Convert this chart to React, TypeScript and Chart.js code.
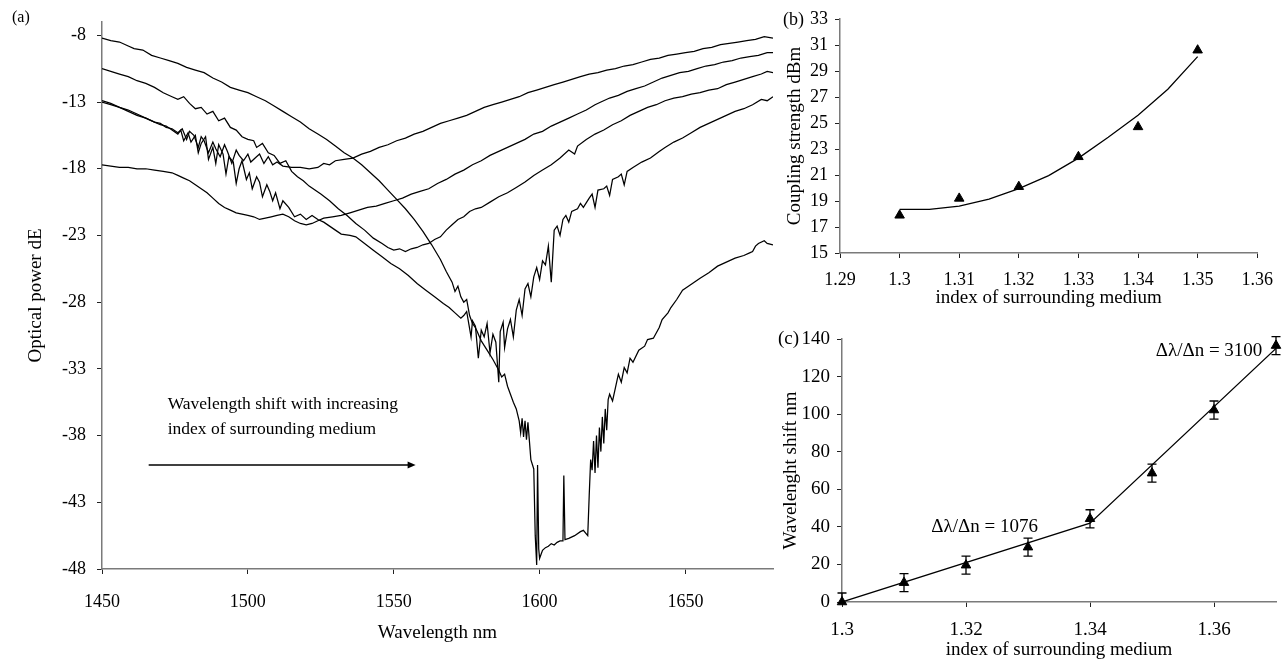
import React, { useEffect, useRef } from "react";
import { Chart, registerables } from "chart.js";

Chart.register(...registerables);

const SERIF = "'Liberation Serif', 'Times New Roman', Times, serif";

// ---------------- Panel (a): transmission spectra ----------------
const A_X_TICKS = [1450, 1500, 1550, 1600, 1650];
const A_Y_TICKS = [-48, -43, -38, -33, -28, -23, -18, -13, -8];

const SPEC1_NM = [1450, 1453, 1456, 1459, 1461, 1464, 1467, 1470, 1473, 1476, 1479, 1482, 1485, 1488, 1491, 1494, 1497, 1500, 1503, 1506, 1509, 1512, 1515, 1518, 1521, 1524, 1527, 1530, 1533, 1536, 1539, 1542, 1545, 1548, 1551, 1554, 1557, 1560, 1563, 1566, 1568, 1570, 1571, 1572, 1573, 1574, 1575, 1576, 1577, 1578, 1580, 1582, 1584, 1586, 1587, 1588, 1589, 1590, 1591, 1592, 1593, 1593.5, 1594, 1594.5, 1595, 1595.5, 1596, 1596.5, 1597, 1598, 1598.5, 1599, 1599.3, 1599.7, 1600, 1601, 1602, 1603, 1604, 1605, 1606, 1607, 1608, 1608.3, 1608.7, 1610, 1612, 1614, 1615, 1616.5, 1617, 1617.5, 1618, 1618.5, 1619, 1619.5, 1620, 1620.5, 1621, 1621.5, 1622, 1622.5, 1623, 1623.5, 1624, 1625, 1626, 1627, 1628, 1629, 1630, 1631, 1632, 1634, 1636, 1637, 1639, 1641, 1642, 1644, 1645, 1647, 1649, 1651, 1653, 1655, 1658, 1661, 1664, 1667, 1670, 1672, 1673, 1674, 1675, 1677, 1678, 1680];
const SPEC1_DB = [-8.2, -8.4, -8.5, -8.8, -9.0, -9.1, -9.5, -9.7, -9.9, -10.1, -10.4, -10.6, -10.8, -11.2, -11.5, -11.9, -12.1, -12.3, -12.6, -12.9, -13.3, -13.7, -14.1, -14.5, -15.0, -15.4, -15.8, -16.3, -16.8, -17.2, -17.7, -18.3, -18.9, -19.6, -20.3, -21.0, -21.8, -22.7, -23.7, -24.8, -25.7, -26.5, -27.2, -26.8, -27.6, -28.0, -27.8, -29.0, -29.6, -29.9, -30.9, -31.6, -32.3, -33.1, -33.6, -33.4, -34.3, -34.9, -35.5, -36.0, -36.9, -37.8, -36.7, -38.1, -36.9, -38.3, -37.0, -38.4, -39.8, -40.5, -45.5, -47.7, -40.2, -46.5, -47.2, -46.6, -46.4, -46.3, -46.1, -46.2, -46.0, -45.9, -45.9, -41.0, -45.8, -45.7, -45.5, -45.2, -45.1, -45.5, -42.5, -39.8, -40.6, -38.4, -40.8, -38.0, -40.4, -37.4, -39.2, -36.6, -38.6, -36.0, -37.6, -35.3, -34.9, -35.4, -34.4, -33.4, -34.0, -32.9, -33.3, -32.2, -32.5, -31.6, -31.3, -30.8, -30.7, -29.9, -29.3, -28.8, -28.4, -27.8, -27.1, -26.8, -26.5, -26.2, -25.8, -25.3, -25.0, -24.7, -24.5, -24.3, -24.2, -23.8, -23.6, -23.4, -23.6, -23.7];

const SPEC2_NM = [1450, 1453, 1456, 1459, 1462, 1465, 1468, 1471, 1474, 1476, 1478, 1480, 1482, 1484, 1486, 1488, 1490, 1492, 1494, 1496, 1498, 1500, 1502, 1503, 1505, 1507, 1509, 1511, 1513, 1515, 1517, 1519, 1521, 1523, 1525, 1528, 1531, 1534, 1537, 1540, 1543, 1546, 1548, 1550, 1552, 1554, 1556, 1558, 1560, 1562, 1564, 1566, 1568, 1570, 1572, 1574, 1576, 1578, 1580, 1583, 1586, 1589, 1592, 1595, 1598, 1601, 1604, 1607, 1610, 1612, 1613, 1616, 1619, 1622, 1625, 1628, 1631, 1634, 1637, 1640, 1643, 1646, 1649, 1652, 1655, 1658, 1661, 1664, 1667, 1670, 1673, 1676, 1678, 1680];
const SPEC2_DB = [-10.5, -10.7, -10.9, -11.1, -11.4, -11.6, -11.9, -12.3, -12.6, -12.8, -12.6, -13.1, -13.5, -13.4, -13.9, -13.7, -14.4, -14.2, -14.9, -15.1, -15.6, -15.8, -15.9, -16.4, -16.1, -16.8, -17.0, -17.6, -17.4, -18.2, -18.6, -18.9, -19.3, -19.6, -19.9, -20.4, -21.0, -21.5, -22.1, -22.6, -23.2, -23.6, -23.9, -24.1, -24.0, -24.2, -24.0, -23.9, -23.7, -23.6, -23.3, -23.1, -22.6, -22.2, -21.8, -21.6, -21.2, -21.0, -20.9, -20.5, -20.1, -19.8, -19.4, -19.0, -18.5, -18.1, -17.7, -17.2, -16.6, -16.9, -16.3, -15.8, -15.4, -15.1, -14.7, -14.4, -14.0, -13.7, -13.4, -13.2, -12.9, -12.7, -12.6, -12.4, -12.3, -12.1, -12.0, -11.7, -11.5, -11.3, -11.1, -10.9, -10.7, -10.8];

const SPEC3_NM = [1450, 1453, 1456, 1459, 1462, 1465, 1468, 1470, 1472, 1474, 1476, 1477.5, 1479, 1480, 1481.5, 1483, 1484, 1485, 1486.5, 1488, 1489, 1490.5, 1492, 1493, 1494.5, 1496, 1497, 1498.5, 1500, 1501, 1502.5, 1504, 1505.5, 1507, 1508.5, 1510, 1512, 1515, 1518, 1521, 1524, 1526, 1528, 1530, 1533, 1536, 1539, 1542, 1545, 1548, 1551, 1554, 1557, 1560, 1563, 1566, 1569, 1572, 1575, 1578, 1581, 1584, 1587, 1590, 1593, 1596, 1599, 1602, 1605, 1608, 1611, 1614, 1617, 1620, 1623, 1626, 1629, 1632, 1635, 1638, 1641, 1644, 1647, 1650, 1653, 1656, 1659, 1662, 1665, 1668, 1671, 1674, 1677, 1680];
const SPEC3_DB = [-12.9, -13.1, -13.4, -13.6, -13.9, -14.2, -14.5, -14.6, -14.9, -15.0, -15.3, -15.0, -15.8, -15.2, -15.5, -16.4, -15.6, -15.9, -16.8, -16.0, -16.5, -17.1, -16.2, -16.7, -17.6, -16.6, -17.0, -17.4, -16.9, -17.5, -17.2, -16.9, -17.6, -17.1, -17.7, -17.5, -17.8, -17.9, -17.9, -18.0, -17.9, -17.6, -17.7, -17.4, -17.3, -17.2, -16.9, -16.7, -16.4, -16.2, -15.9, -15.7, -15.4, -15.2, -14.9, -14.6, -14.4, -14.2, -14.0, -13.7, -13.4, -13.2, -13.0, -12.8, -12.6, -12.3, -12.1, -11.9, -11.7, -11.5, -11.3, -11.1, -10.9, -10.8, -10.6, -10.5, -10.3, -10.2, -10.0, -9.8, -9.7, -9.5, -9.4, -9.3, -9.2, -9.0, -8.9, -8.7, -8.6, -8.5, -8.4, -8.3, -8.1, -8.2];

const SPEC4_NM = [1450, 1453, 1456, 1459, 1462, 1465, 1468, 1470, 1472, 1474, 1476, 1477, 1478, 1479.5, 1480.5, 1482, 1483, 1484, 1485.5, 1486.5, 1488, 1489, 1490, 1491.5, 1492.5, 1493.5, 1495, 1496, 1497, 1498, 1499.5, 1500.5, 1501.5, 1503, 1504, 1505, 1506.5, 1507.5, 1508.5, 1509.5, 1511, 1512, 1514, 1516, 1518, 1520, 1522, 1524, 1526, 1528, 1530, 1532, 1535, 1537, 1540, 1543, 1546, 1549, 1552, 1555, 1558, 1561, 1564, 1567, 1569, 1571, 1573, 1574, 1575, 1576.5, 1577, 1578, 1579, 1580, 1581, 1582, 1583, 1584, 1585, 1586, 1586.5, 1587.5, 1588, 1589, 1590, 1591, 1592, 1593, 1594, 1595, 1596, 1597, 1598, 1599, 1600, 1601, 1602, 1603, 1604, 1605, 1606, 1607, 1608, 1609, 1610, 1611, 1613, 1614, 1615, 1617, 1618, 1619, 1620, 1622, 1623, 1624, 1625, 1627, 1628, 1629, 1630, 1632, 1635, 1638, 1641, 1643, 1646, 1649, 1652, 1655, 1658, 1661, 1664, 1667, 1670, 1673, 1676, 1678, 1680];
const SPEC4_DB = [-13.0, -13.2, -13.4, -13.7, -14.0, -14.2, -14.5, -14.7, -14.8, -15.1, -15.4, -15.1, -15.9, -15.3, -16.0, -15.5, -16.8, -16.1, -15.6, -17.3, -16.4, -17.6, -16.2, -16.9, -18.4, -17.1, -17.5, -19.1, -18.0, -17.4, -18.8, -18.3, -19.5, -18.6, -19.0, -20.1, -19.2, -19.7, -20.4, -19.8, -21.0, -20.4, -20.9, -21.6, -21.4, -21.8, -21.5, -21.8, -22.0, -22.3, -22.6, -22.9, -23.0, -23.1, -23.6, -24.1, -24.6, -25.1, -25.5, -26.0, -26.6, -27.1, -27.6, -28.1, -28.4, -28.8, -29.2, -29.0, -28.7, -30.6, -29.4, -29.8, -32.2, -30.1, -30.6, -29.6, -31.8, -30.4, -31.0, -34.0, -30.2, -29.5, -31.4, -30.0, -29.3, -30.6, -28.6, -27.8, -29.0, -27.0, -26.6, -27.6, -26.1, -25.4, -26.3, -24.9, -25.2, -23.8, -26.5, -22.6, -22.3, -23.0, -21.8, -21.5, -22.0, -21.2, -21.0, -20.6, -20.9, -20.2, -19.9, -20.9, -19.6, -19.5, -19.3, -20.0, -18.8, -18.6, -18.4, -19.2, -18.2, -17.9, -17.5, -17.2, -16.7, -16.4, -16.0, -15.7, -15.3, -14.9, -14.6, -14.3, -14.0, -13.7, -13.5, -13.2, -12.8, -12.9, -12.6];

const SPEC5_NM = [1450, 1453, 1456, 1459, 1462, 1465, 1468, 1471, 1474, 1476, 1478, 1480, 1482, 1484, 1486, 1488, 1490, 1492, 1494, 1496, 1498, 1500, 1502, 1504, 1506, 1508, 1510, 1512, 1514, 1516, 1518, 1520, 1522, 1524, 1526, 1529, 1532, 1535, 1538, 1541, 1544, 1547, 1550, 1553, 1556, 1559, 1562, 1565, 1568, 1571, 1574, 1577, 1580, 1583, 1586, 1589, 1592, 1595, 1598, 1601, 1604, 1607, 1610, 1613, 1616, 1619, 1621, 1624, 1627, 1630, 1633, 1636, 1639, 1642, 1645, 1648, 1651, 1654, 1657, 1660, 1663, 1666, 1669, 1672, 1675, 1678, 1680];
const SPEC5_DB = [-17.7, -17.8, -17.9, -17.9, -18.0, -18.0, -18.1, -18.2, -18.3, -18.5, -18.7, -18.9, -19.2, -19.5, -19.8, -20.2, -20.6, -20.9, -21.1, -21.3, -21.4, -21.5, -21.6, -21.8, -21.7, -21.6, -21.5, -21.4, -21.6, -21.9, -22.1, -22.2, -22.1, -21.9, -21.7, -21.6, -21.5, -21.3, -21.1, -20.9, -20.8, -20.6, -20.4, -20.2, -19.9, -19.7, -19.5, -19.1, -18.8, -18.4, -18.1, -17.7, -17.4, -17.0, -16.7, -16.4, -16.1, -15.8, -15.4, -15.2, -14.8, -14.5, -14.2, -13.9, -13.6, -13.2, -13.0, -12.7, -12.5, -12.2, -12.0, -11.8, -11.5, -11.2, -11.0, -10.8, -10.7, -10.5, -10.3, -10.2, -10.0, -9.9, -9.7, -9.6, -9.5, -9.3, -9.3];

// ---------------- Panel (b): coupling strength ----------------
const B_X_TICKS = [1.29, 1.3, 1.31, 1.32, 1.33, 1.34, 1.35, 1.36];
const B_Y_TICKS = [15, 17, 19, 21, 23, 25, 27, 29, 31, 33];
const B_INDEX = [1.3, 1.31, 1.32, 1.33, 1.34, 1.35];
const B_COUPLING = [17.9, 19.2, 20.1, 22.4, 24.7, 30.6];
const B_FIT_INDEX = [1.3, 1.305, 1.31, 1.315, 1.32, 1.325, 1.33, 1.335, 1.34, 1.345, 1.35];
const B_FIT_COUPLING = [18.35, 18.35, 18.6, 19.15, 19.95, 20.95, 22.3, 23.9, 25.6, 27.6, 30.1];

// ---------------- Panel (c): wavelength shift ----------------
const C_X_TICKS = [1.3, 1.32, 1.34, 1.36];
const C_Y_TICKS = [0, 20, 40, 60, 80, 100, 120, 140];
const C_INDEX = [1.3, 1.31, 1.32, 1.33, 1.34, 1.35, 1.36, 1.37];
const C_SHIFT = [0, 10.3, 19.6, 29.2, 44.3, 68.6, 102.2, 136.5];
const C_ERROR = [4.8, 4.8, 4.8, 4.8, 4.8, 4.8, 4.8, 4.8];
const C_FIT_INDEX = [1.3, 1.34, 1.37];
const C_FIT_SHIFT = [0, 42, 135];
const C_SLOPE_LABELS = ["\u0394\u03bb/\u0394n = 1076", "\u0394\u03bb/\u0394n = 3100"];

// ---------------- helpers ----------------
const pairs = (xs: number[], ys: number[]) => xs.map((x, i) => ({ x, y: ys[i] }));

function axis(min: number, max: number, ticks: number[], size: number, pad: number, fontSize: number, horizontal: boolean) {
  return {
    type: "linear",
    position: horizontal ? "bottom" : "left",
    min,
    max,
    afterBuildTicks: (s: any) => {
      s.ticks = ticks.map((v) => ({ value: v }));
    },
    afterFit: (s: any) => {
      if (horizontal) s.height = size;
      else s.width = size;
    },
    ticks: {
      autoSkip: false,
      maxRotation: 0,
      minRotation: 0,
      padding: pad,
      color: "#000",
      font: { family: SERIF, size: fontSize },
      callback: (v: any) => String(v),
    },
    grid: { drawOnChartArea: false, drawTicks: true, tickLength: 5, color: "#222", lineWidth: 1 },
    border: { display: true, color: "#7a7a7a", width: 1.5 },
  };
}

function txt(ctx: CanvasRenderingContext2D, s: string, x: number, y: number, size: number, align: CanvasTextAlign = "left", rot = 0) {
  ctx.save();
  ctx.translate(x, y);
  if (rot) ctx.rotate(rot);
  ctx.font = `${size}px ${SERIF}`;
  ctx.fillStyle = "#000";
  ctx.textAlign = align;
  ctx.textBaseline = "middle";
  ctx.fillText(s, 0, 0);
  ctx.restore();
}

function overlay(id: string, draw: (ctx: CanvasRenderingContext2D, chart: any) => void) {
  return {
    id,
    afterDraw(chart: any) {
      const ctx = chart.ctx;
      ctx.save();
      draw(ctx, chart);
      ctx.restore();
    },
  };
}

const baseOptions = (padding: any, scales: any) => ({
  responsive: false,
  animation: false,
  events: [],
  layout: { padding },
  plugins: { legend: { display: false }, tooltip: { enabled: false }, title: { display: false } },
  scales,
});

const lineDs = (data: any[]) => ({
  type: "line",
  data,
  borderColor: "#000",
  borderWidth: 1.25,
  pointRadius: 0,
  tension: 0,
  fill: false,
});

// ---------------- charts ----------------
function makeA(canvas: HTMLCanvasElement) {
  const specs = [
    pairs(SPEC1_NM, SPEC1_DB),
    pairs(SPEC2_NM, SPEC2_DB),
    pairs(SPEC3_NM, SPEC3_DB),
    pairs(SPEC4_NM, SPEC4_DB),
    pairs(SPEC5_NM, SPEC5_DB),
  ];
  return new Chart(canvas, {
    type: "line",
    data: { datasets: specs.map((d) => lineDs(d)) as any },
    options: baseOptions(
      { left: 0, top: 22, right: 27, bottom: 0 },
      {
        x: axis(1450, 1680, A_X_TICKS, 91, 17, 18, true),
        y: axis(-48, -7, A_Y_TICKS, 102, 11, 18, false),
      }
    ) as any,
    plugins: [
      overlay("overlayA", (ctx, chart) => {
        const a = chart.chartArea;
        const xs = chart.scales.x;
        const ys = chart.scales.y;
        txt(ctx, "(a)", 12, 18, 16);
        txt(ctx, "Optical power dE", 36, (a.top + a.bottom) / 2, 19, "center", -Math.PI / 2);
        txt(ctx, "Wavelength nm", (a.left + a.right) / 2, 633, 19, "center");
        const tx = xs.getPixelForValue(1472.5);
        txt(ctx, "Wavelength shift with increasing", tx, ys.getPixelForValue(-35.7), 17.5);
        txt(ctx, "index of surrounding medium", tx, ys.getPixelForValue(-37.5), 17.5);
        const ax0 = xs.getPixelForValue(1466);
        const ax1 = xs.getPixelForValue(1557.5);
        const ay = ys.getPixelForValue(-40.2);
        ctx.strokeStyle = "#000";
        ctx.lineWidth = 1.6;
        ctx.beginPath();
        ctx.moveTo(ax0, ay);
        ctx.lineTo(ax1 - 6, ay);
        ctx.stroke();
        ctx.fillStyle = "#000";
        ctx.beginPath();
        ctx.moveTo(ax1, ay);
        ctx.lineTo(ax1 - 8, ay - 3.5);
        ctx.lineTo(ax1 - 8, ay + 3.5);
        ctx.closePath();
        ctx.fill();
      }),
    ],
  });
}

function makeB(canvas: HTMLCanvasElement) {
  return new Chart(canvas, {
    type: "scatter",
    data: {
      datasets: [
        {
          type: "scatter",
          data: pairs(B_INDEX, B_COUPLING),
          pointStyle: "triangle",
          pointRadius: 5.5,
          backgroundColor: "#000",
          borderColor: "#000",
          borderWidth: 1,
        },
        lineDs(pairs(B_FIT_INDEX, B_FIT_COUPLING)),
      ] as any,
    },
    options: baseOptions(
      { left: 0, top: 19, right: 26, bottom: 0 },
      {
        x: axis(1.29, 1.36, B_X_TICKS, 57, 11, 18, true),
        y: axis(15, 33, B_Y_TICKS, 110, 7, 18, false),
      }
    ) as any,
    plugins: [
      overlay("overlayB", (ctx, chart) => {
        const a = chart.chartArea;
        txt(ctx, "(b)", 53, 20, 18);
        txt(ctx, "Coupling strength dBm", 65, (a.top + a.bottom) / 2, 19, "center", -Math.PI / 2);
        txt(ctx, "index of surrounding medium", (a.left + a.right) / 2, 298, 19, "center");
      }),
    ],
  });
}

function makeC(canvas: HTMLCanvasElement) {
  return new Chart(canvas, {
    type: "scatter",
    data: {
      datasets: [
        lineDs(pairs(C_FIT_INDEX, C_FIT_SHIFT)),
        {
          type: "scatter",
          data: pairs(C_INDEX, C_SHIFT),
          pointStyle: "triangle",
          pointRadius: 5.5,
          backgroundColor: "#000",
          borderColor: "#000",
          borderWidth: 1,
          clip: false,
        },
      ] as any,
    },
    options: baseOptions(
      { left: 0, top: 29, right: 8, bottom: 0 },
      {
        x: axis(1.3, 1.37, C_X_TICKS, 58, 12, 19, true),
        y: axis(0, 140, C_Y_TICKS, 112, 7, 19, false),
      }
    ) as any,
    plugins: [
      {
        id: "errorBarsC",
        afterDatasetsDraw(chart: any) {
          const ctx = chart.ctx;
          const xs = chart.scales.x;
          const ys = chart.scales.y;
          const bottom = chart.chartArea.bottom;
          ctx.save();
          ctx.strokeStyle = "#000";
          ctx.lineWidth = 1.3;
          C_INDEX.forEach((n, i) => {
            const x = xs.getPixelForValue(n);
            const yTop = ys.getPixelForValue(C_SHIFT[i] + C_ERROR[i]);
            const yBot = Math.min(bottom, ys.getPixelForValue(C_SHIFT[i] - C_ERROR[i]));
            ctx.beginPath();
            ctx.moveTo(x, yTop);
            ctx.lineTo(x, yBot);
            ctx.moveTo(x - 4.5, yTop);
            ctx.lineTo(x + 4.5, yTop);
            if (yBot < bottom) {
              ctx.moveTo(x - 4.5, yBot);
              ctx.lineTo(x + 4.5, yBot);
            }
            ctx.stroke();
          });
          ctx.restore();
        },
      },
      overlay("overlayC", (ctx, chart) => {
        const a = chart.chartArea;
        const xs = chart.scales.x;
        const ys = chart.scales.y;
        txt(ctx, "(c)", 48, 29, 19);
        txt(ctx, "Wavelenght shift nm", 61, (a.top + a.bottom) / 2, 19, "center", -Math.PI / 2);
        txt(ctx, "index of surrounding medium", (a.left + a.right) / 2, 340, 19, "center");
        txt(ctx, C_SLOPE_LABELS[0], xs.getPixelForValue(1.3144), ys.getPixelForValue(40), 19);
        txt(ctx, C_SLOPE_LABELS[1], xs.getPixelForValue(1.3506), ys.getPixelForValue(133.5), 19);
      }),
    ],
  });
}

export default function App() {
  const refA = useRef<HTMLCanvasElement>(null);
  const refB = useRef<HTMLCanvasElement>(null);
  const refC = useRef<HTMLCanvasElement>(null);

  useEffect(() => {
    const charts = [makeA(refA.current!), makeB(refB.current!), makeC(refC.current!)];
    return () => charts.forEach((c) => c.destroy());
  }, []);

  return (
    <div style={{ position: "absolute", left: 0, top: 0, width: 1284, height: 660, background: "#fff", overflow: "hidden" }}>
      <canvas ref={refA} width={800} height={660} style={{ position: "absolute", left: 0, top: 0 }} />
      <canvas ref={refB} width={554} height={310} style={{ position: "absolute", left: 730, top: 0 }} />
      <canvas ref={refC} width={554} height={350} style={{ position: "absolute", left: 730, top: 310 }} />
    </div>
  );
}
